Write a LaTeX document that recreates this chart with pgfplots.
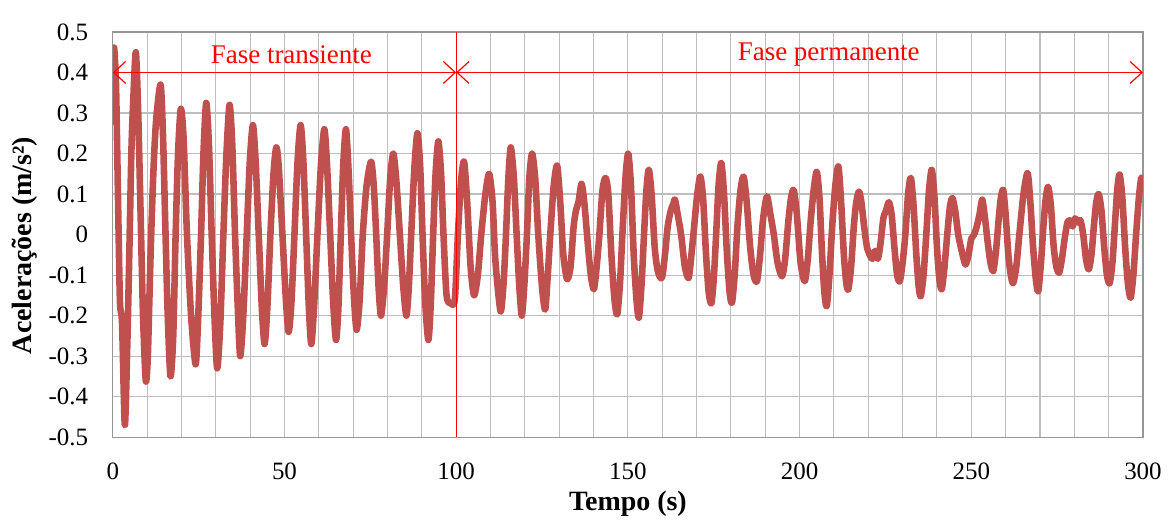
\documentclass[border=0pt]{standalone}
\usepackage{fontspec}
\setmainfont{Liberation Serif}
\usepackage{pgfplots}
\pgfplotsset{compat=1.18}
\usetikzlibrary{arrows.meta}
\definecolor{series}{RGB}{192,80,77}
\definecolor{gridc}{RGB}{190,190,190}
\definecolor{framec}{RGB}{150,150,150}
\begin{document}
\fontsize{12.5}{15}\selectfont
\begin{tikzpicture}
\begin{axis}[
  at={(0,0)}, anchor=south west,
  scale only axis, width=516pt, height=203pt,
  xmin=0, xmax=300, ymin=-0.5, ymax=0.5,
  xtick={0,50,100,150,200,250,300},
  xticklabels={0,50,100,150,200,250,300},
  minor x tick num=4,
  ytick={-0.5,-0.4,-0.3,-0.2,-0.1,0,0.1,0.2,0.3,0.4,0.5},
  yticklabels={-0.5,-0.4,-0.3,-0.2,-0.1,0,0.1,0.2,0.3,0.4,0.5},
  major tick length=0pt, minor tick length=0pt,
  grid=both,
  major grid style={gridc, line width=0.55pt},
  minor grid style={gridc, line width=0.55pt},
  axis line style={framec, line width=0.6pt},
  tick label style={font=\fontsize{12.5}{15}\selectfont, black},
  xticklabel style={yshift=-8.5pt},
  yticklabel style={xshift=-8pt},
  xlabel={\textbf{Tempo (s)}},
  ylabel={\textbf{Acelerações (m/s²)}},
  xlabel style={at={(axis description cs:0.5,0)}, anchor=center, yshift=-33.5pt, font=\fontsize{14}{16}\selectfont},
  ylabel style={at={(axis description cs:-0.0853,0.473)}, anchor=center, font=\fontsize{14}{16}\selectfont},
]
\addplot[series, line width=3.3pt, line join=round, line cap=round, smooth, tension=0.45] coordinates {
(0,0.28) (0.3,0.46) (0.9,0.38) (1.3,0.2) (1.7,0.0) (2.1,-0.17) (2.7,-0.22) (3.5,-0.47) (4.2,-0.28) (4.8,-0.05) (5.4,0.2) (5.9,0.32) (6.7,0.45) (7.4,0.3) (8.1,0.05) (8.8,-0.2) (9.6,-0.36) (10.2,-0.3) (11.0,-0.05) (11.8,0.15) (12.6,0.28) (13.9,0.37) (14.6,0.25) (15.3,0.02) (16.0,-0.2) (16.8,-0.35)
(17.6,-0.25) (18.3,0.0) (19.0,0.2) (19.8,0.31) (20.6,0.24) (21.6,0.0) (22.8,-0.2) (24.1,-0.32)
(24.8,-0.22) (25.7,0.0) (26.4,0.2) (27.2,0.325) (28.0,0.22) (28.8,0.0) (29.6,-0.2) (30.4,-0.33)
(31.3,-0.22) (32.2,0.0) (33.1,0.2) (34.0,0.32) (34.8,0.22) (35.6,0.0) (36.4,-0.18) (37.1,-0.30)
(38.0,-0.2) (39.0,0.0) (39.9,0.18) (40.8,0.27) (41.6,0.18) (42.5,0.0) (43.4,-0.18) (44.2,-0.27)
(45.0,-0.18) (45.9,0.0) (46.8,0.15) (47.6,0.215) (48.3,0.17) (49.4,0.0) (50.4,-0.16) (51.2,-0.24)
(52.0,-0.17) (52.9,0.0) (53.8,0.18) (54.7,0.27) (55.5,0.18) (56.3,0.0) (57.1,-0.18) (57.8,-0.27)
(58.6,-0.18) (59.6,0.0) (60.6,0.17) (61.6,0.26) (62.4,0.17) (63.3,0.0) (64.2,-0.17) (65.0,-0.26)
(65.7,-0.18) (66.4,0.0) (67.1,0.17) (67.9,0.26) (68.7,0.15) (69.4,0.0) (70.2,-0.15) (71.0,-0.235)
(71.9,-0.16) (72.8,0.0) (73.9,0.12) (75.2,0.18) (76.0,0.12) (76.7,0.0) (77.4,-0.13) (78.1,-0.20)
(79.0,-0.13) (79.9,0.0) (80.8,0.14) (81.7,0.20) (82.6,0.13) (83.6,0.0) (84.6,-0.13) (85.5,-0.20)
(86.2,-0.13) (86.9,0.0) (87.8,0.16) (88.7,0.25) (89.5,0.17) (90.2,0.0) (91.0,-0.17) (91.9,-0.26)
(92.6,-0.17) (93.3,0.0) (94.0,0.15) (94.8,0.23) (95.6,0.15) (96.3,0.0) (97.2,-0.15) (98.4,-0.17) (99.6,-0.16)
(100.5,0.0) (101.4,0.13) (102.3,0.18) (103.2,0.08) (104.2,-0.08) (105.2,-0.15)
(106.3,-0.1) (107.3,0.0) (108.5,0.1) (109.6,0.15) (110.6,0.08) (111.3,-0.05) (112.2,-0.14) (113.0,-0.19)
(113.8,-0.12) (114.5,0.0) (115.2,0.14) (115.9,0.215) (116.8,0.14) (117.6,0.0) (118.4,-0.13) (119.1,-0.20)
(119.8,-0.13) (120.6,0.0) (121.3,0.14) (122.1,0.20) (123.0,0.14) (123.9,0.0) (125.0,-0.13) (125.9,-0.185)
(126.6,-0.11) (127.4,0.0) (128.4,0.12) (129.4,0.17) (130.3,0.08) (131.2,-0.05) (132.3,-0.11)
(133.3,-0.08) (134.2,0.02) (134.9,0.06) (135.6,0.08) (136.5,0.125) (137.3,0.08) (138.3,-0.02) (139.2,-0.1) (140.1,-0.135)
(140.9,-0.08) (141.7,0.0) (142.6,0.11) (143.5,0.14) (144.3,0.1) (145.2,-0.05) (146.1,-0.16) (146.9,-0.197)
(147.7,-0.12) (148.4,0.0) (149.3,0.14) (150.1,0.20) (150.9,0.12) (151.7,-0.05) (152.5,-0.16) (153.2,-0.205)
(154.0,-0.12) (154.7,0.0) (155.4,0.11) (156.1,0.16) (156.9,0.1) (157.8,-0.03) (158.7,-0.09) (159.9,-0.107)
(160.8,-0.05) (161.6,0.02) (162.5,0.06) (163.2,0.075) (163.7,0.086) (164.5,0.05) (165.5,0.0) (166.6,-0.08) (167.7,-0.107)
(168.5,-0.05) (169.3,0.02) (170.2,0.1) (171.1,0.143) (171.9,0.09) (172.7,-0.04) (173.5,-0.14) (174.3,-0.17)
(175.0,-0.11) (175.7,0.0) (176.4,0.12) (177.2,0.177) (178.0,0.1) (178.8,-0.04) (179.6,-0.14) (180.3,-0.168)
(181.1,-0.1) (181.9,0.02) (182.8,0.11) (183.7,0.143) (184.6,0.08) (185.6,-0.03) (186.6,-0.1) (187.6,-0.115)
(188.5,-0.05) (189.4,0.04) (190.5,0.094) (191.5,0.05) (192.5,0.0) (193.6,-0.07) (194.9,-0.103)
(195.8,-0.06) (196.7,0.03) (197.5,0.09) (198.3,0.11) (199.2,0.05) (200.3,-0.07) (201.5,-0.115)
(202.4,-0.06) (203.2,0.03) (204.1,0.11) (205.0,0.155) (205.8,0.09) (206.5,-0.04) (207.2,-0.14) (207.9,-0.177)
(208.7,-0.1) (209.5,0.02) (210.4,0.12) (211.3,0.168) (212.1,0.08) (212.9,-0.05) (213.6,-0.12) (214.2,-0.135)
(215.0,-0.08) (215.8,0.02) (216.5,0.08) (217.3,0.106) (218.0,0.08) (218.8,0.02) (219.6,-0.03) (220.4,-0.05) (221.2,-0.06) (222.0,-0.04) (222.8,-0.06) (223.6,-0.02) (224.4,0.04)
(225.2,0.06) (226.0,0.08) (226.8,0.05) (227.6,-0.03) (228.4,-0.1) (229.2,-0.115)
(230.0,-0.07) (230.8,0.0) (231.6,0.1) (232.4,0.14) (233.2,0.07) (234.0,-0.05) (234.7,-0.13) (235.3,-0.152)
(236.1,-0.1) (236.9,0.0) (237.7,0.11) (238.5,0.16) (239.3,0.09) (240.0,-0.03) (240.7,-0.11) (241.4,-0.135)
(242.2,-0.08) (243.0,0.0) (243.8,0.07) (244.5,0.09) (245.3,0.06) (246.2,0.0) (247.2,-0.04) (248.3,-0.074)
(249.2,-0.05) (250.0,-0.01) (250.8,0.0) (251.6,0.02) (252.4,0.05) (253.2,0.086) (254.0,0.04) (254.8,-0.02) (255.6,-0.07) (256.4,-0.09)
(257.2,-0.04) (258.0,0.04) (258.6,0.09) (259.3,0.11) (260.0,0.05) (260.8,-0.05) (261.5,-0.1) (262.2,-0.12)
(263.1,-0.08) (264.0,0.0) (265.2,0.1) (266.4,0.152) (267.2,0.08) (268.0,-0.03) (268.8,-0.11) (269.5,-0.14)
(270.3,-0.07) (271.0,0.02) (271.7,0.09) (272.4,0.118) (273.2,0.07) (274.0,-0.03) (274.8,-0.08) (275.6,-0.094)
(276.4,-0.06) (277.2,-0.01) (278.0,0.03) (278.8,0.035) (279.5,0.02) (280.2,0.04) (281.0,0.03) (281.8,0.035) (282.6,0.0) (283.4,-0.06) (284.2,-0.086)
(285.0,-0.05) (285.7,0.02) (286.4,0.08) (287.1,0.10) (287.9,0.06) (288.7,-0.03) (289.5,-0.1) (290.3,-0.12)
(291.1,-0.07) (291.8,0.02) (292.5,0.11) (293.2,0.148) (294.0,0.09) (294.8,-0.03) (295.6,-0.12) (296.4,-0.156)
(297.2,-0.1) (298.0,0.0) (298.8,0.09) (299.5,0.14) (300,0.13)
};
\draw[red, line width=0.6pt] (axis cs:100,-0.5) -- (axis cs:100,0.5);
\draw[red, line width=0.6pt, {Straight Barb[length=6pt,width=11pt]}-{Straight Barb[length=6pt,width=11pt]}] (axis cs:0,0.4) -- (axis cs:100,0.4);
\draw[red, line width=0.6pt, {Straight Barb[length=6pt,width=11pt]}-{Straight Barb[length=6pt,width=11pt]}] (axis cs:100,0.4) -- (axis cs:300,0.4);
\node[red, font=\fontsize{13.5}{16}\selectfont] at (axis cs:52,0.445) {Fase transiente};
\node[red, font=\fontsize{13.5}{16}\selectfont] at (axis cs:208.5,0.445) {Fase permanente};
\end{axis}
\path (-56.5pt,-42.5pt) rectangle (528.5pt,219pt);
\end{tikzpicture}
\end{document}
